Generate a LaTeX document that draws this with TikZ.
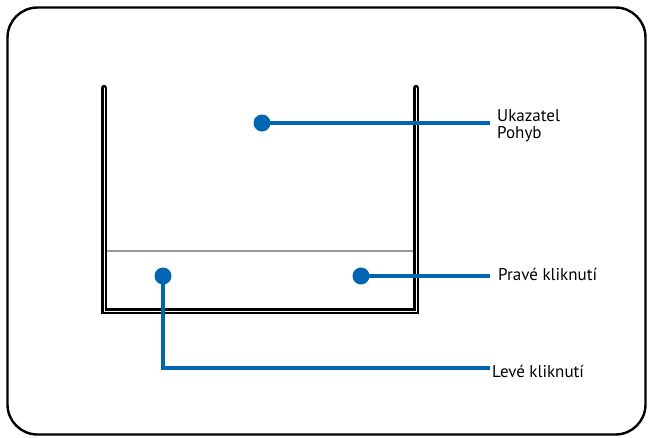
\documentclass[tikz,border=0pt]{standalone}
\usepackage{fontspec}
\setmainfont{PT Sans}
\definecolor{callblue}{HTML}{0066B3}
\begin{document}
\begin{tikzpicture}[x=1pt,y=-1pt,
  frame/.style={draw=black,line width=2.4pt,rounded corners=30pt},
  pad/.style={draw=black,line width=2.8pt,double=white,double distance=0.8pt,line cap=round},
  divider/.style={draw=black!40,line width=1.2pt},
  dot/.style={circle,fill=callblue,inner sep=0pt,minimum size=17pt},
  lead/.style={draw=callblue,line width=3.8pt},
  lbl/.style={anchor=base west,inner sep=0pt,font=\fontsize{17}{17}\selectfont}]
\useasboundingbox (0,0) rectangle (648,437);
\draw[frame] (7.5,7.5) rectangle (645.5,434.5);
\draw[divider] (105,251) -- (415,251);
\draw[pad] (104,88) -- (104,311) -- (416,311) -- (416,88);
\node[dot] (d1) at (262,123) {};
\node[dot] (d2) at (361,276) {};
\node[dot] (d3) at (163,276) {};
\coordinate (e1) at (490,123);
\coordinate (e2) at (490,276);
\coordinate (e3) at (490,368);
\node[lbl] (t1) at (497,121) {Ukazatel};
\node[lbl] (t1b) at (497,138) {Pohyb};
\node[lbl] (t2) at (498,280) {Pravé kliknutí};
\node[lbl] (t3) at (492,377) {Levé kliknutí};
\draw[lead] (d1.center) -- (e1);
\draw[lead] (d2.center) -- (e2);
\draw[lead] (d3.center) |- (e3);
\end{tikzpicture}
\end{document}
